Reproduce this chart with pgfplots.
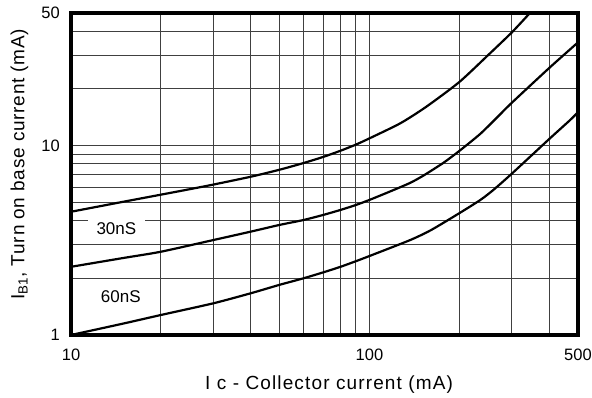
\documentclass[border=0pt]{standalone}
\usepackage{fontspec}
\setmainfont{Liberation Sans}
\newfontfamily\lblfont[LetterSpace=6]{Liberation Sans}
\newfontfamily\ylblfont[LetterSpace=4]{Liberation Sans}
\usepackage{pgfplots}
\pgfplotsset{compat=1.18}
\begin{document}
\begin{tikzpicture}
\useasboundingbox (-71bp,-63bp) rectangle (521bp,335bp);
\begin{axis}[
  at={(0,0)}, anchor=south west,
  scale only axis, width=507bp, height=322bp,
  xmode=log, ymode=log,
  xmin=10, xmax=500, ymin=1, ymax=50,
  xtick={10,100,500}, xticklabels={10,100,500},
  ytick={1,10,50}, yticklabels={1,10,50},
  minor xtick={20,30,40,50,60,70,80,90,200,300,400},
  minor ytick={2,3,4,5,6,7,8,9,20,30,40},
  grid=both,
  major grid style={line width=0.8bp, draw=black!75},
  minor grid style={line width=0.8bp, draw=black!75},
  tick style={draw=none}, major tick length=0pt, minor tick length=0pt,
  axis line style={line width=4.5bp, line cap=rect},
  /pgf/number format/assume math mode=true,
  tick label style={font=\fontsize{16.5bp}{19bp}\selectfont, inner sep=0pt},
  xticklabel style={anchor=north, yshift=-14bp},
  yticklabel style={anchor=east, xshift=-11bp},
  xlabel={I c - Collector current (mA)},
  ylabel={I\textsubscript{B1}, Turn on base current (mA)},
  xlabel style={at={(axis description cs:0.509,-0.155)}, anchor=center, font=\lblfont\fontsize{19bp}{22bp}\selectfont},
  ylabel style={at={(axis description cs:-0.1016,0.53)}, anchor=center, font=\ylblfont\fontsize{19bp}{22bp}\selectfont},
]
\addplot[black, line width=2.2bp, smooth, tension=0.4] coordinates {
 (10,4.47) (15,5.05) (20,5.5) (25,5.88) (30,6.22) (40,6.84) (50,7.45) (60,8.07)
 (70,8.7) (80,9.38) (90,10.1) (100,10.9) (127,13.1) (155,16.0) (200,21.6)
 (250,30) (300,39.5) (345,50)
};
\addplot[black, line width=2.2bp, smooth, tension=0.4] coordinates {
 (10,2.29) (15,2.55) (20,2.75) (30,3.17) (40,3.51) (50,3.81) (60,4.04) (70,4.30)
 (80,4.57) (90,4.85) (100,5.16) (117,5.71) (137,6.35) (152,6.95) (177,8.1)
 (200,9.35) (235,11.5) (267,14.0) (300,16.8) (400,25.6) (500,35)
};
\addplot[black, line width=2.2bp, smooth, tension=0.4] coordinates {
 (10,1.0) (15,1.15) (20,1.275) (30,1.47) (40,1.66) (50,1.84) (60,1.99) (70,2.14)
 (80,2.29) (90,2.45) (100,2.61) (137,3.17) (161,3.58) (200,4.39) (235,5.15)
 (260,5.82) (300,7.1) (400,10.8) (470,13.6) (500,15.0)
};
\node[fill=white, inner xsep=8.5bp, inner ysep=3bp, font=\fontsize{17bp}{20bp}\selectfont] at (axis cs:14.19,3.63) {30nS};
\node[fill=white, inner xsep=8.5bp, inner ysep=3bp, font=\fontsize{17bp}{20bp}\selectfont] at (axis cs:14.68,1.59) {60nS};
\end{axis}
\end{tikzpicture}
\end{document}
